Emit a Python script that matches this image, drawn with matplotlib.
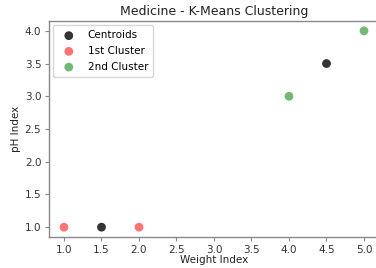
import numpy as np
import matplotlib
matplotlib.use('Agg')
import matplotlib.pyplot as plt

centroid_x = [1.5, 4.5]
centroid_y = [1.0, 3.5]
c1_x = [1.0, 2.0]
c1_y = [1.0, 1.0]
c2_x = [4.0, 5.0]
c2_y = [3.0, 4.0]

plt.rcParams['font.family'] = 'DejaVu Sans'
fig = plt.figure(figsize=(3.76, 2.68), dpi=100)
ax = fig.add_axes([49/376, 31/268, 330/376, 216/268])

ax.scatter(centroid_x, centroid_y, s=40, c='black', alpha=0.8, label='Centroids', edgecolors='none')
ax.scatter(c1_x, c1_y, s=40, c='red', alpha=0.55, label='1st Cluster', edgecolors='none')
ax.scatter(c2_x, c2_y, s=40, c='green', alpha=0.55, label='2nd Cluster', edgecolors='none')

ax.set_xlim(0.8, 5.2)
ax.set_ylim(0.85, 4.15)
ax.set_xticks(np.arange(1.0, 5.01, 0.5))
ax.set_yticks(np.arange(1.0, 4.01, 0.5))

for sp in ax.spines.values():
    sp.set_color('#888888')
    sp.set_linewidth(1.0)
ax.tick_params(labelsize=7.5, colors='#888888', labelcolor='#333333', length=3, pad=2.5)

ax.set_title('Medicine - K-Means Clustering', fontsize=9, color='#222222', pad=4)
ax.set_xlabel('Weight Index', fontsize=7.5, color='#222222', labelpad=0.5)
ax.set_ylabel('pH Index', fontsize=7.5, color='#222222', labelpad=3)

ax.legend(loc='upper left', fontsize=7.5, frameon=True, borderpad=0.5, handletextpad=0.8,
          labelspacing=0.55, borderaxespad=0.4)

fig.savefig('out.png', dpi=100)
